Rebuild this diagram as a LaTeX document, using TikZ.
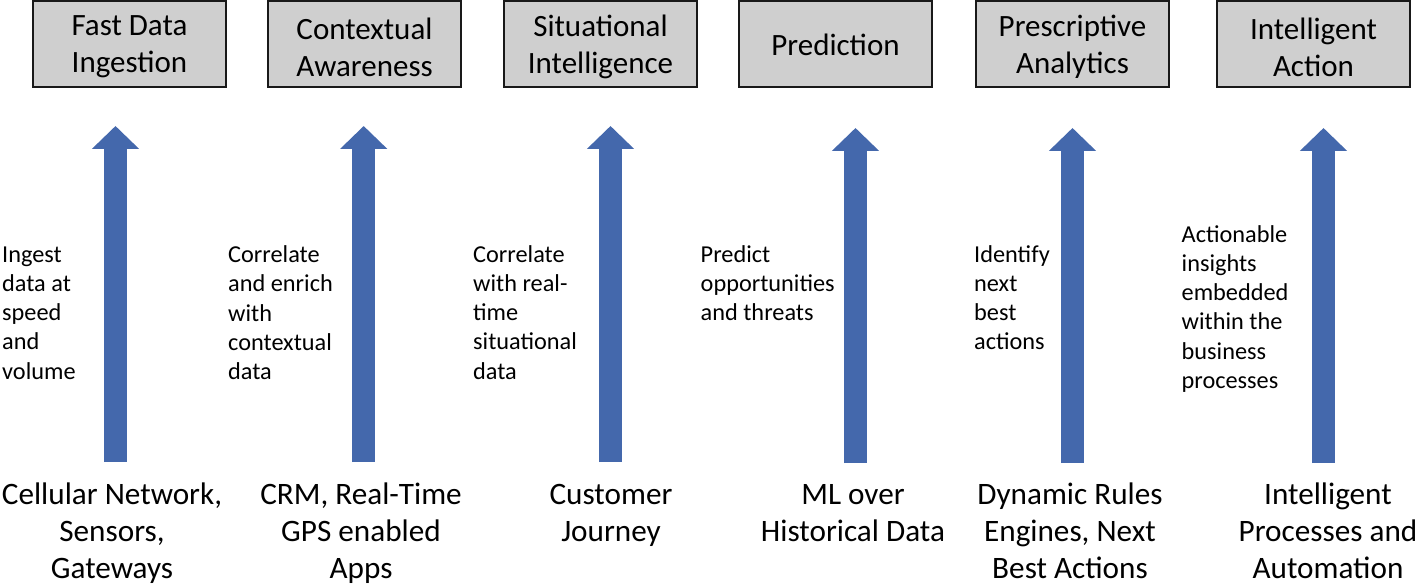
\documentclass[tikz,border=0pt]{standalone}
\usepackage{fontspec}
\setmainfont{Carlito}
\usetikzlibrary{arrows.meta}
\definecolor{arrowblue}{RGB}{68,104,172}
\definecolor{boxgray}{RGB}{207,207,207}
\tikzset{
  stage/.style={draw=black!90, line width=2pt, fill=boxgray, minimum width=193pt,
    minimum height=86pt, inner sep=0pt},
  title/.style={inner sep=0pt, align=center, font=\fontsize{31}{37}\selectfont},
  note/.style={anchor=base west, inner sep=0pt, align=left,
    font=\fontsize{24.3}{29.3}\selectfont},
  source/.style={anchor=base, inner sep=0pt, align=center,
    font=\fontsize{31.2}{37}\selectfont},
  uparrow/.style={draw=arrowblue, line width=23pt, line cap=butt,
    -{Triangle[width=46pt,length=23pt]}}
}

\begin{document}
\begin{tikzpicture}[x=1pt,y=-1pt]
\useasboundingbox (0,0) rectangle (1425,588);

% Stage boxes along the top
\node[stage] (fast) at (129.5,44) {};
\node[stage] (context) at (364.5,44) {};
\node[stage] (situ) at (600.5,44) {};
\node[stage] (predict) at (835.5,44) {};
\node[stage] (prescr) at (1072.5,44) {};
\node[stage] (action) at (1313.5,44) {};
\node[title] (fast-lbl) at ([yshift=-3pt]fast) {Fast Data\\Ingestion};
\node[title] (context-lbl) at ([yshift=-3pt]context) {Contextual\\Awareness};
\node[title] (situ-lbl) at ([yshift=-3pt]situ) {Situational\\Intelligence};
\node[title] (predict-lbl) at ([yshift=-1pt]predict) {Prediction};
\node[title] (prescr-lbl) at ([yshift=-3pt]prescr) {Prescriptive\\Analytics};
\node[title] (action-lbl) at ([yshift=-3pt]action) {Intelligent\\Action};

% Arrow ends
\coordinate (fast-b) at (115.5,462);
\coordinate (fast-t) at (115.5,126);
\coordinate (context-b) at (363.7,462);
\coordinate (context-t) at (363.7,126);
\coordinate (situ-b) at (610.5,462);
\coordinate (situ-t) at (610.5,126);
\coordinate (predict-b) at (855.5,463);
\coordinate (predict-t) at (855.5,128);
\coordinate (prescr-b) at (1072.5,463);
\coordinate (prescr-t) at (1072.5,128);
\coordinate (action-b) at (1323.5,463);
\coordinate (action-t) at (1323.5,128);

% Block arrows
\draw[uparrow] (fast-b) -- (fast-t);
\draw[uparrow] (context-b) -- (context-t);
\draw[uparrow] (situ-b) -- (situ-t);
\draw[uparrow] (predict-b) -- (predict-t);
\draw[uparrow] (prescr-b) -- (prescr-t);
\draw[uparrow] (action-b) -- (action-t);

% Notes beside the arrows (placed by the last line's baseline)
\node[note] (n-fast) at (2,379.2) {Ingest\\data at\\speed\\and\\volume};
\node[note] (n-context) at (228,379.7) {Correlate\\and enrich\\with\\contextual\\data};
\node[note] (n-situ) at (473,379.2) {Correlate\\with real-\\time\\situational\\data};
\node[note] (n-predict) at (700.5,320.6) {Predict\\opportunities\\and threats};
\node[note] (n-prescr) at (974,349.9) {Identify\\next\\best\\actions};
\node[note] (n-action) at (1181.5,388.5) {Actionable\\insights\\embedded\\within the\\business\\processes};

% Sources at the bottom (placed by the last line's baseline)
\node[source] (s-fast) at (112,578) {Cellular Network,\\Sensors,\\Gateways};
\node[source] (s-context) at (361,578) {CRM, Real-Time\\GPS enabled\\Apps};
\node[source] (s-situ) at (611,541) {Customer\\Journey};
\node[source] (s-predict) at (853,541) {ML over\\Historical Data};
\node[source] (s-prescr) at (1070,578) {Dynamic Rules\\Engines, Next\\Best Actions};
\node[source] (s-action) at (1328,578) {Intelligent\\Processes and\\Automation};

\end{tikzpicture}
\end{document}
